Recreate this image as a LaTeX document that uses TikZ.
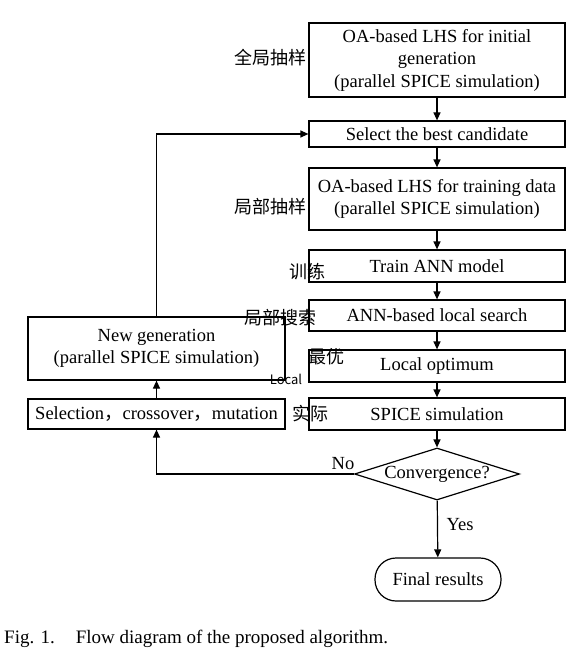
\documentclass[tikz,border=0pt]{standalone}
\usepackage{fontspec}
\setmainfont{Liberation Serif}
\newfontfamily\cjk{Noto Sans CJK SC}
\usetikzlibrary{shapes.geometric,arrows.meta}
\begin{document}
\begin{tikzpicture}[x=1pt,y=-1pt,
  box/.style={draw, line width=1.2pt, minimum width=256pt, align=center, inner sep=0pt,
    font=\fontsize{18.5}{22.5}\selectfont},
  arr/.style={-{Triangle[length=8pt,width=7pt]}, line width=1.2pt},
  lbl/.style={inner sep=0pt, font=\fontsize{18.5}{22.5}\selectfont},
  hw/.style={inner sep=0pt, font=\cjk\fontsize{18}{18}\selectfont}
]
\useasboundingbox (0,0) rectangle (574,658);

\node[box, minimum height=74pt] (b1) at (437,60)
  {OA-based LHS for initial\\generation\\(parallel SPICE simulation)};
\node[box, minimum height=26pt] (b2) at (437,134) {Select the best candidate};
\node[box, minimum height=62pt] (b3) at (437,199)
  {OA-based LHS for training data\\(parallel SPICE simulation)};
\node[box, minimum height=32pt] (b4) at (437,266) {Train ANN model};
\node[box, minimum height=31pt] (b5) at (437,315.5) {ANN-based local search};
\node[box, minimum height=32pt] (b6) at (437,366) {Local optimum};
\node[box, minimum height=32pt] (b7) at (437,414) {SPICE simulation};
\node[draw, line width=1.2pt, shape=diamond, aspect=3.17, inner sep=0pt,
  minimum width=165pt, minimum height=52pt,
  font=\fontsize{18.5}{22.5}\selectfont] (conv) at (437,474) {Convergence?};
\node[draw, line width=1.2pt, rounded corners=21pt, minimum width=126pt,
  minimum height=43pt, inner sep=0pt,
  font=\fontsize{18.5}{22.5}\selectfont] (final) at (438,579.5) {Final results};

\node[box, minimum width=257pt, minimum height=63pt] (newgen) at (156.5,348.5)
  {New generation\\(parallel SPICE simulation)};
\node[box, minimum width=257pt, minimum height=30pt] (sel) at (156.5,414)
  {Selection{\cjk ，}crossover{\cjk ，}mutation};

\draw[arr] (b1) -- (b2);
\draw[arr] (b2) -- (b3);
\draw[arr] (b3) -- (b4);
\draw[arr] (b4) -- (b5);
\draw[arr] (b5) -- (b6);
\draw[arr] (b6) -- (b7);
\draw[arr] (b7) -- (conv);
\draw[arr] (conv) -- (final);
\draw[arr] (conv.west) -| (sel.south);
\draw[arr] (sel) -- (newgen);
\draw[arr] (newgen.north) |- (b2.west);

\node[lbl] (no) at (343,464) {No};
\node[lbl] (yes) at (460,525) {Yes};

\node[hw] (h1) at (270,58) {全局抽样};
\node[hw] (h2) at (270,207) {局部抽样};
\node[hw] (h3) at (307,272) {训练};
\node[hw] (h4) at (280,318) {局部搜索};
\node[hw, font=\cjk\fontsize{13}{13}\selectfont] (h5a) at (286,379) {Local};
\node[hw] (h5b) at (326,357) {最优};
\node[hw] (h6) at (310,414) {实际};

\node[anchor=base west, inner sep=0pt, font=\fontsize{19}{22}\selectfont] (cap) at (4,643)
  {Fig. 1.\hspace{1.1em}Flow diagram of the proposed algorithm.};
\end{tikzpicture}
\end{document}
